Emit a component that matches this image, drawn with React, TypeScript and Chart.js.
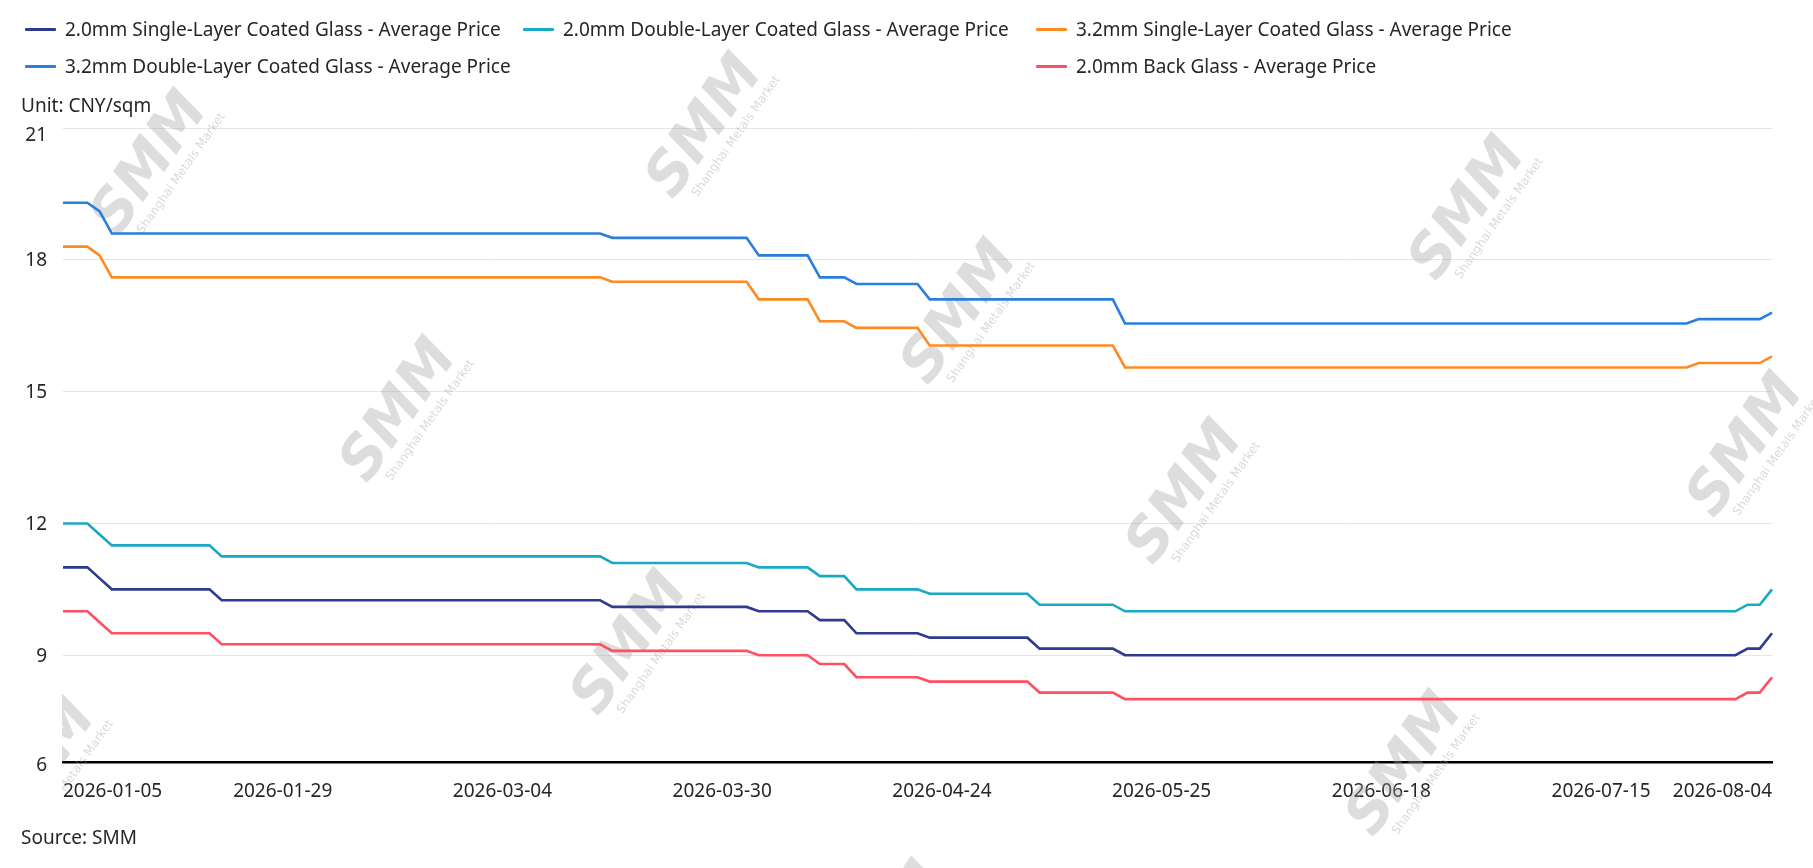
import React, { useEffect, useRef } from "react";
import { Chart, registerables } from "chart.js";

Chart.register(...registerables);

// ---------- categories (working days) ----------
const dates: string[] = [
  "2026-01-05", "2026-01-06", "2026-01-07", "2026-01-08", "2026-01-09",
  "2026-01-12", "2026-01-13", "2026-01-14", "2026-01-15", "2026-01-16",
  "2026-01-19", "2026-01-20", "2026-01-21", "2026-01-22", "2026-01-23",
  "2026-01-26", "2026-01-27", "2026-01-28", "2026-01-29", "2026-01-30",
  "2026-02-02", "2026-02-03", "2026-02-04", "2026-02-05", "2026-02-06",
  "2026-02-09", "2026-02-10", "2026-02-11", "2026-02-12", "2026-02-13",
  "2026-02-24", "2026-02-25", "2026-02-26", "2026-02-27",
  "2026-03-02", "2026-03-03", "2026-03-04", "2026-03-05", "2026-03-06",
  "2026-03-09", "2026-03-10", "2026-03-11", "2026-03-12", "2026-03-13",
  "2026-03-16", "2026-03-17", "2026-03-18", "2026-03-19", "2026-03-20",
  "2026-03-23", "2026-03-24", "2026-03-25", "2026-03-26", "2026-03-27",
  "2026-03-30", "2026-03-31",
  "2026-04-01", "2026-04-02", "2026-04-03",
  "2026-04-07", "2026-04-08", "2026-04-09", "2026-04-10",
  "2026-04-13", "2026-04-14", "2026-04-15", "2026-04-16", "2026-04-17",
  "2026-04-20", "2026-04-21", "2026-04-22", "2026-04-23", "2026-04-24",
  "2026-04-27", "2026-04-28", "2026-04-29", "2026-04-30",
  "2026-05-06", "2026-05-07", "2026-05-08",
  "2026-05-11", "2026-05-12", "2026-05-13", "2026-05-14", "2026-05-15",
  "2026-05-18", "2026-05-19", "2026-05-20", "2026-05-21", "2026-05-22",
  "2026-05-25", "2026-05-26", "2026-05-27", "2026-05-28", "2026-05-29",
  "2026-06-01", "2026-06-02", "2026-06-03", "2026-06-04", "2026-06-05",
  "2026-06-08", "2026-06-09", "2026-06-10", "2026-06-11", "2026-06-12",
  "2026-06-15", "2026-06-16", "2026-06-17", "2026-06-18",
  "2026-06-22", "2026-06-23", "2026-06-24", "2026-06-25", "2026-06-26",
  "2026-06-29", "2026-06-30",
  "2026-07-01", "2026-07-02", "2026-07-03",
  "2026-07-06", "2026-07-07", "2026-07-08", "2026-07-09", "2026-07-10",
  "2026-07-13", "2026-07-14", "2026-07-15", "2026-07-16", "2026-07-17",
  "2026-07-20", "2026-07-21", "2026-07-22", "2026-07-23", "2026-07-24",
  "2026-07-27", "2026-07-28", "2026-07-29", "2026-07-30", "2026-07-31",
  "2026-08-03", "2026-08-04",
];

// ---------- series values (CNY/sqm) ----------
const single20: number[] = [
  11, 11, 11, 10.75,
  10.5, 10.5, 10.5, 10.5, 10.5, 10.5, 10.5, 10.5, 10.5,
  10.25, 10.25, 10.25, 10.25, 10.25, 10.25, 10.25, 10.25,
  10.25, 10.25, 10.25, 10.25, 10.25, 10.25, 10.25, 10.25,
  10.25, 10.25, 10.25, 10.25, 10.25, 10.25, 10.25, 10.25,
  10.25, 10.25, 10.25, 10.25, 10.25, 10.25, 10.25, 10.25,
  10.1, 10.1, 10.1, 10.1, 10.1, 10.1, 10.1, 10.1, 10.1, 10.1, 10.1, 10.1,
  10, 10, 10, 10, 10,
  9.8, 9.8, 9.8,
  9.5, 9.5, 9.5, 9.5, 9.5, 9.5,
  9.4, 9.4, 9.4, 9.4, 9.4, 9.4, 9.4, 9.4, 9.4,
  9.15, 9.15, 9.15, 9.15, 9.15, 9.15, 9.15,
  9, 9, 9, 9, 9, 9, 9, 9, 9, 9,
  9, 9, 9, 9, 9, 9, 9, 9, 9, 9,
  9, 9, 9, 9, 9, 9, 9, 9, 9, 9,
  9, 9, 9, 9, 9, 9, 9, 9, 9, 9,
  9, 9, 9, 9, 9, 9, 9, 9, 9, 9,
  9,
  9.15, 9.15, 9.5,
];

const double20: number[] = [
  12, 12, 12, 11.75,
  11.5, 11.5, 11.5, 11.5, 11.5, 11.5, 11.5, 11.5, 11.5,
  11.25, 11.25, 11.25, 11.25, 11.25, 11.25, 11.25, 11.25,
  11.25, 11.25, 11.25, 11.25, 11.25, 11.25, 11.25, 11.25,
  11.25, 11.25, 11.25, 11.25, 11.25, 11.25, 11.25, 11.25,
  11.25, 11.25, 11.25, 11.25, 11.25, 11.25, 11.25, 11.25,
  11.1, 11.1, 11.1, 11.1, 11.1, 11.1, 11.1, 11.1, 11.1, 11.1, 11.1, 11.1,
  11, 11, 11, 11, 11,
  10.8, 10.8, 10.8,
  10.5, 10.5, 10.5, 10.5, 10.5, 10.5,
  10.4, 10.4, 10.4, 10.4, 10.4, 10.4, 10.4, 10.4, 10.4,
  10.15, 10.15, 10.15, 10.15, 10.15, 10.15, 10.15,
  10, 10, 10, 10, 10, 10, 10, 10, 10, 10,
  10, 10, 10, 10, 10, 10, 10, 10, 10, 10,
  10, 10, 10, 10, 10, 10, 10, 10, 10, 10,
  10, 10, 10, 10, 10, 10, 10, 10, 10, 10,
  10, 10, 10, 10, 10, 10, 10, 10, 10, 10,
  10,
  10.15, 10.15, 10.5,
];

const single32: number[] = [
  18.3, 18.3, 18.3, 18.1,
  17.6, 17.6, 17.6, 17.6, 17.6, 17.6, 17.6, 17.6, 17.6, 17.6,
  17.6, 17.6, 17.6, 17.6, 17.6, 17.6, 17.6, 17.6, 17.6, 17.6,
  17.6, 17.6, 17.6, 17.6, 17.6, 17.6, 17.6, 17.6, 17.6, 17.6,
  17.6, 17.6, 17.6, 17.6, 17.6, 17.6, 17.6, 17.6, 17.6, 17.6,
  17.6,
  17.5, 17.5, 17.5, 17.5, 17.5, 17.5, 17.5, 17.5, 17.5, 17.5, 17.5, 17.5,
  17.1, 17.1, 17.1, 17.1, 17.1,
  16.6, 16.6, 16.6,
  16.45, 16.45, 16.45, 16.45, 16.45, 16.45,
  16.05, 16.05, 16.05, 16.05, 16.05, 16.05, 16.05, 16.05, 16.05, 16.05,
  16.05, 16.05, 16.05, 16.05, 16.05, 16.05,
  15.55, 15.55, 15.55, 15.55, 15.55, 15.55, 15.55, 15.55, 15.55, 15.55,
  15.55, 15.55, 15.55, 15.55, 15.55, 15.55, 15.55, 15.55, 15.55, 15.55,
  15.55, 15.55, 15.55, 15.55, 15.55, 15.55, 15.55, 15.55, 15.55, 15.55,
  15.55, 15.55, 15.55, 15.55, 15.55, 15.55, 15.55, 15.55, 15.55, 15.55,
  15.55, 15.55, 15.55, 15.55, 15.55, 15.55, 15.55,
  15.65, 15.65, 15.65, 15.65, 15.65, 15.65,
  15.8,
];

const double32: number[] = [
  19.3, 19.3, 19.3, 19.1,
  18.6, 18.6, 18.6, 18.6, 18.6, 18.6, 18.6, 18.6, 18.6, 18.6,
  18.6, 18.6, 18.6, 18.6, 18.6, 18.6, 18.6, 18.6, 18.6, 18.6,
  18.6, 18.6, 18.6, 18.6, 18.6, 18.6, 18.6, 18.6, 18.6, 18.6,
  18.6, 18.6, 18.6, 18.6, 18.6, 18.6, 18.6, 18.6, 18.6, 18.6,
  18.6,
  18.5, 18.5, 18.5, 18.5, 18.5, 18.5, 18.5, 18.5, 18.5, 18.5, 18.5, 18.5,
  18.1, 18.1, 18.1, 18.1, 18.1,
  17.6, 17.6, 17.6,
  17.45, 17.45, 17.45, 17.45, 17.45, 17.45,
  17.1, 17.1, 17.1, 17.1, 17.1, 17.1, 17.1, 17.1, 17.1, 17.1,
  17.1, 17.1, 17.1, 17.1, 17.1, 17.1,
  16.55, 16.55, 16.55, 16.55, 16.55, 16.55, 16.55, 16.55, 16.55, 16.55,
  16.55, 16.55, 16.55, 16.55, 16.55, 16.55, 16.55, 16.55, 16.55, 16.55,
  16.55, 16.55, 16.55, 16.55, 16.55, 16.55, 16.55, 16.55, 16.55, 16.55,
  16.55, 16.55, 16.55, 16.55, 16.55, 16.55, 16.55, 16.55, 16.55, 16.55,
  16.55, 16.55, 16.55, 16.55, 16.55, 16.55, 16.55,
  16.65, 16.65, 16.65, 16.65, 16.65, 16.65,
  16.8,
];

const back20: number[] = [
  10, 10, 10, 9.75,
  9.5, 9.5, 9.5, 9.5, 9.5, 9.5, 9.5, 9.5, 9.5,
  9.25, 9.25, 9.25, 9.25, 9.25, 9.25, 9.25, 9.25,
  9.25, 9.25, 9.25, 9.25, 9.25, 9.25, 9.25, 9.25,
  9.25, 9.25, 9.25, 9.25, 9.25, 9.25, 9.25, 9.25,
  9.25, 9.25, 9.25, 9.25, 9.25, 9.25, 9.25, 9.25,
  9.1, 9.1, 9.1, 9.1, 9.1, 9.1, 9.1, 9.1, 9.1, 9.1, 9.1, 9.1,
  9, 9, 9, 9, 9,
  8.8, 8.8, 8.8,
  8.5, 8.5, 8.5, 8.5, 8.5, 8.5,
  8.4, 8.4, 8.4, 8.4, 8.4, 8.4, 8.4, 8.4, 8.4,
  8.15, 8.15, 8.15, 8.15, 8.15, 8.15, 8.15,
  8, 8, 8, 8, 8, 8, 8, 8, 8, 8,
  8, 8, 8, 8, 8, 8, 8, 8, 8, 8,
  8, 8, 8, 8, 8, 8, 8, 8, 8, 8,
  8, 8, 8, 8, 8, 8, 8, 8, 8, 8,
  8, 8, 8, 8, 8, 8, 8, 8, 8, 8,
  8,
  8.15, 8.15, 8.5,
];

// ---------- names / ticks ----------
const seriesNames: string[] = [
  "2.0mm Single-Layer Coated Glass - Average Price",
  "2.0mm Double-Layer Coated Glass - Average Price",
  "3.2mm Single-Layer Coated Glass - Average Price",
  "3.2mm Double-Layer Coated Glass - Average Price",
  "2.0mm Back Glass - Average Price",
];
const seriesColors: string[] = ["#2e3b8e", "#19a8c6", "#ff8a24", "#2a7fdc", "#ff4f63"];

const xTickLabels: string[] = [
  "2026-01-05", "2026-01-29", "2026-03-04", "2026-03-30", "2026-04-24",
  "2026-05-25", "2026-06-18", "2026-07-15", "2026-08-04",
];
const yTickValues: number[] = [9, 12, 15, 18, 21];
const yBottomLabel = "6";
const Y_MIN = 6.57;
const Y_MAX = 21;

const unitText = "Unit: CNY/sqm";
const sourceText = "Source: SMM";

// ---------- layout / style ----------
const W = 1813;
const H = 868;
const FONT = '"Noto Sans", "Open Sans", sans-serif';
const TEXT_COLOR = "#262626";

// legend slots: [series index, left, centerY]
const legendSlots: [number, number, number][] = [
  [0, 25, 29],
  [1, 523, 29],
  [2, 1036, 29],
  [3, 25, 66],
  [4, 1036, 66],
];

// watermark spots: [cx, cy, clipLeft]
const watermarkSpots: [number, number, number][] = [
  [152, 165, 0], [707, 128, 0], [1470, 210, 0], [962, 314, 0], [401, 412, 0],
  [1187, 494, 0], [1748, 447, 0], [632, 645, 0], [40, 772, 62], [1407, 766, 0], [890, 935, 0],
];

const watermarkPlugin = {
  id: "smmWatermark",
  beforeDatasetsDraw(chart: any) {
    const ctx = chart.ctx as CanvasRenderingContext2D;
    for (const [cx, cy, clipLeft] of watermarkSpots) {
      ctx.save();
      if (clipLeft > 0) {
        ctx.beginPath();
        ctx.rect(clipLeft, 0, W - clipLeft, H);
        ctx.clip();
      }
      ctx.translate(cx, cy);
      ctx.rotate((-55 * Math.PI) / 180);
      ctx.fillStyle = "rgba(160,160,160,0.36)";
      ctx.font = 'italic 900 58px "DejaVu Sans", sans-serif';
      ctx.textAlign = "center";
      ctx.textBaseline = "alphabetic";
      ctx.fillText("SMM", 0, 14);
      ctx.font = '12px "DejaVu Sans", sans-serif';
      ctx.fillStyle = "rgba(160,160,160,0.4)";
      ctx.fillText("Shanghai Metals Market", 10, 32);
      ctx.restore();
    }
  },
};

// y labels drawn by hand so each can sit like in the reference
const yLabelPlugin = {
  id: "yLabels",
  afterDraw(chart: any) {
    const ctx = chart.ctx as CanvasRenderingContext2D;
    const y = chart.scales.y;
    const area = chart.chartArea;
    ctx.save();
    ctx.font = `19px ${FONT}`;
    ctx.fillStyle = TEXT_COLOR;
    ctx.textAlign = "right";
    ctx.textBaseline = "middle";
    const xr = area.left - 16;
    for (const v of yTickValues) {
      const dy = v === Y_MAX ? 8 : 1;
      ctx.fillText(String(v), xr, y.getPixelForValue(v) + dy);
    }
    ctx.fillText(yBottomLabel, xr, y.getPixelForValue(Y_MIN) + 4);
    ctx.restore();
  },
};

export default function App() {
  const canvasRef = useRef<HTMLCanvasElement>(null);

  useEffect(() => {
    const canvas = canvasRef.current;
    if (!canvas) return;
    const tickIdx = xTickLabels.map((l) => dates.indexOf(l));
    const series = [single20, double20, single32, double32, back20];

    const chart = new Chart(canvas, {
      type: "line",
      data: {
        labels: dates,
        datasets: series.map((d, i) => ({
          label: seriesNames[i],
          data: d,
          borderColor: seriesColors[i],
          backgroundColor: seriesColors[i],
          borderWidth: 2.6,
          pointRadius: 0,
          tension: 0,
          fill: false,
        })),
      },
      options: {
        responsive: false,
        animation: false,
        devicePixelRatio: 1,
        layout: { padding: { left: 0, right: 41, top: 128, bottom: 0 } },
        plugins: {
          legend: { display: false },
          tooltip: { enabled: false },
        },
        scales: {
          x: {
            type: "category",
            offset: false,
            grid: { display: false, drawTicks: false },
            border: { display: true, color: "#000000", width: 2.5 },
            afterBuildTicks: (s: any) => {
              s.ticks = tickIdx.map((v) => ({ value: v }));
            },
            afterFit: (s: any) => {
              s.height = 106;
            },
            ticks: {
              autoSkip: false,
              maxRotation: 0,
              minRotation: 0,
              align: "inner",
              padding: 18,
              color: TEXT_COLOR,
              font: { family: FONT, size: 19 },
            },
          },
          y: {
            type: "linear",
            min: Y_MIN,
            max: Y_MAX,
            afterBuildTicks: (s: any) => {
              s.ticks = [Y_MIN, ...yTickValues].map((v) => ({ value: v }));
            },
            afterFit: (s: any) => {
              s.width = 63;
            },
            grid: { color: "#e4e5ea", lineWidth: 1, drawTicks: false },
            border: { display: false },
            ticks: {
              display: false,
            },
          },
        },
      },
      plugins: [watermarkPlugin, yLabelPlugin],
    } as any);

    return () => chart.destroy();
  }, []);

  return (
    <div
      style={{
        position: "fixed",
        left: 0,
        top: 0,
        width: W,
        height: H,
        background: "#ffffff",
        fontFamily: FONT,
        color: TEXT_COLOR,
        overflow: "hidden",
      }}
    >
      <canvas
        ref={canvasRef}
        width={W}
        height={H}
        style={{ position: "absolute", left: 0, top: 0, width: W, height: H }}
      />
      {legendSlots.map(([si, left, cy]) => (
        <div
          key={si}
          style={{
            position: "absolute",
            left,
            top: cy - 14,
            height: 28,
            display: "flex",
            alignItems: "center",
            whiteSpace: "nowrap",
            fontSize: 19,
          }}
        >
          <span
            style={{
              display: "inline-block",
              width: 31,
              height: 3,
              borderRadius: 1,
              background: seriesColors[si],
              marginRight: 9,
            }}
          />
          <span>{seriesNames[si]}</span>
        </div>
      ))}
      <div
        style={{
          position: "absolute",
          left: 21,
          top: 105 - 14,
          height: 28,
          lineHeight: "28px",
          fontSize: 19,
          whiteSpace: "nowrap",
        }}
      >
        {unitText}
      </div>
      <div
        style={{
          position: "absolute",
          left: 21,
          top: 837 - 14,
          height: 28,
          lineHeight: "28px",
          fontSize: 19,
          whiteSpace: "nowrap",
        }}
      >
        {sourceText}
      </div>
    </div>
  );
}
